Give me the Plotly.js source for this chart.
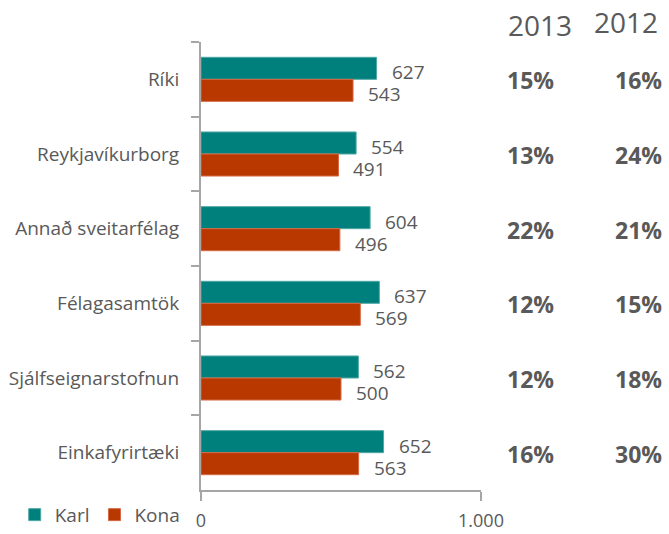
<!DOCTYPE html>
<html>
<head>
<meta charset="utf-8">
<script src="https://cdn.plot.ly/plotly-3.0.1.min.js"></script>
<style>html,body{margin:0;padding:0;background:#fff;}#chart{width:669px;height:534px;}</style>
</head>
<body>
<div id="chart"></div>
<script>
const categories = ["Ríki", "Reykjavíkurborg", "Annað sveitarfélag", "Félagasamtök", "Sjálfseignarstofnun", "Einkafyrirtæki"];
const karl = [627, 554, 604, 637, 562, 652];
const kona = [543, 491, 496, 569, 500, 563];
const pct2013 = ["15%", "13%", "22%", "12%", "12%", "16%"];
const pct2012 = ["16%", "24%", "21%", "15%", "18%", "30%"];
const yearLabels = ["2013", "2012"];
const xTickVals = [0, 1000];
const xTickText = ["0", "1.000"];

const textColor = "#595959";
const axisColor = "#a6a6a6";
const font = "Open Sans, Liberation Sans, sans-serif";

const traces = [
  {type: "bar", orientation: "h", name: "Karl", y: categories, x: karl,
   marker: {color: "#00807d", line: {color: "#4fa8a5", width: 1}}, hoverinfo: "none"},
  {type: "bar", orientation: "h", name: "Kona", y: categories, x: kona,
   marker: {color: "#b83800", line: {color: "#d46a45", width: 1}}, hoverinfo: "none"}
];

const annotations = [];
categories.forEach((c, i) => {
  annotations.push({x: karl[i], y: c, xref: "x", yref: "y", text: String(karl[i]), showarrow: false,
    xanchor: "left", yanchor: "middle", xshift: 13, yshift: 7,
    font: {family: font, size: 19, color: textColor}});
  annotations.push({x: kona[i], y: c, xref: "x", yref: "y", text: String(kona[i]), showarrow: false,
    xanchor: "left", yanchor: "middle", xshift: 13, yshift: -15,
    font: {family: font, size: 19, color: textColor}});
  annotations.push({x: 1.175, y: c, xref: "paper", yref: "y", text: "<b>" + pct2013[i] + "</b>", showarrow: false,
    xanchor: "center", yanchor: "middle", yshift: -1,
    font: {family: font, size: 23, color: textColor}});
  annotations.push({x: 1.561, y: c, xref: "paper", yref: "y", text: "<b>" + pct2012[i] + "</b>", showarrow: false,
    xanchor: "center", yanchor: "middle", yshift: -1,
    font: {family: font, size: 23, color: textColor}});
});
annotations.push({x: 1.211, y: 1.038, xref: "paper", yref: "paper", text: yearLabels[0], showarrow: false,
  xanchor: "center", yanchor: "middle", font: {family: font, size: 28, color: textColor}});
annotations.push({x: 1.518, y: 1.045, xref: "paper", yref: "paper", text: yearLabels[1], showarrow: false,
  xanchor: "center", yanchor: "middle", font: {family: font, size: 28, color: textColor}});

const layout = {
  width: 669, height: 534,
  margin: {l: 201, r: 188, t: 42, b: 44, pad: 0, autoexpand: false},
  paper_bgcolor: "#fff", plot_bgcolor: "#fff",
  barmode: "group", bargap: 0.41, bargroupgap: 0,
  showlegend: true,
  legend: {orientation: "h", xref: "container", yref: "container", x: 0.022, xanchor: "left", y: 0.036, yanchor: "middle",
    font: {family: font, size: 19, color: textColor}, traceorder: "normal", bgcolor: "rgba(0,0,0,0)", itemwidth: 30},
  xaxis: {range: [0, 1000], tickvals: xTickVals, ticktext: xTickText, ticks: "outside", ticklen: 9,
    tickwidth: 2, tickcolor: axisColor, showline: true, linecolor: axisColor, linewidth: 2,
    showgrid: false, zeroline: false, fixedrange: true, automargin: false, ticklabelstandoff: 4,
    tickfont: {family: font, size: 18, color: textColor}},
  yaxis: {type: "category", autorange: "reversed", tickson: "boundaries", ticks: "outside", ticklen: 8,
    tickwidth: 2, tickcolor: axisColor, showline: true, linecolor: axisColor, linewidth: 2,
    showgrid: false, zeroline: false, fixedrange: true, ticklabelstandoff: 16, automargin: false,
    tickfont: {family: font, size: 19, color: textColor}},
  annotations: annotations
};

Plotly.newPlot("chart", traces, layout, {displayModeBar: false, staticPlot: true});
</script>
</body>
</html>
